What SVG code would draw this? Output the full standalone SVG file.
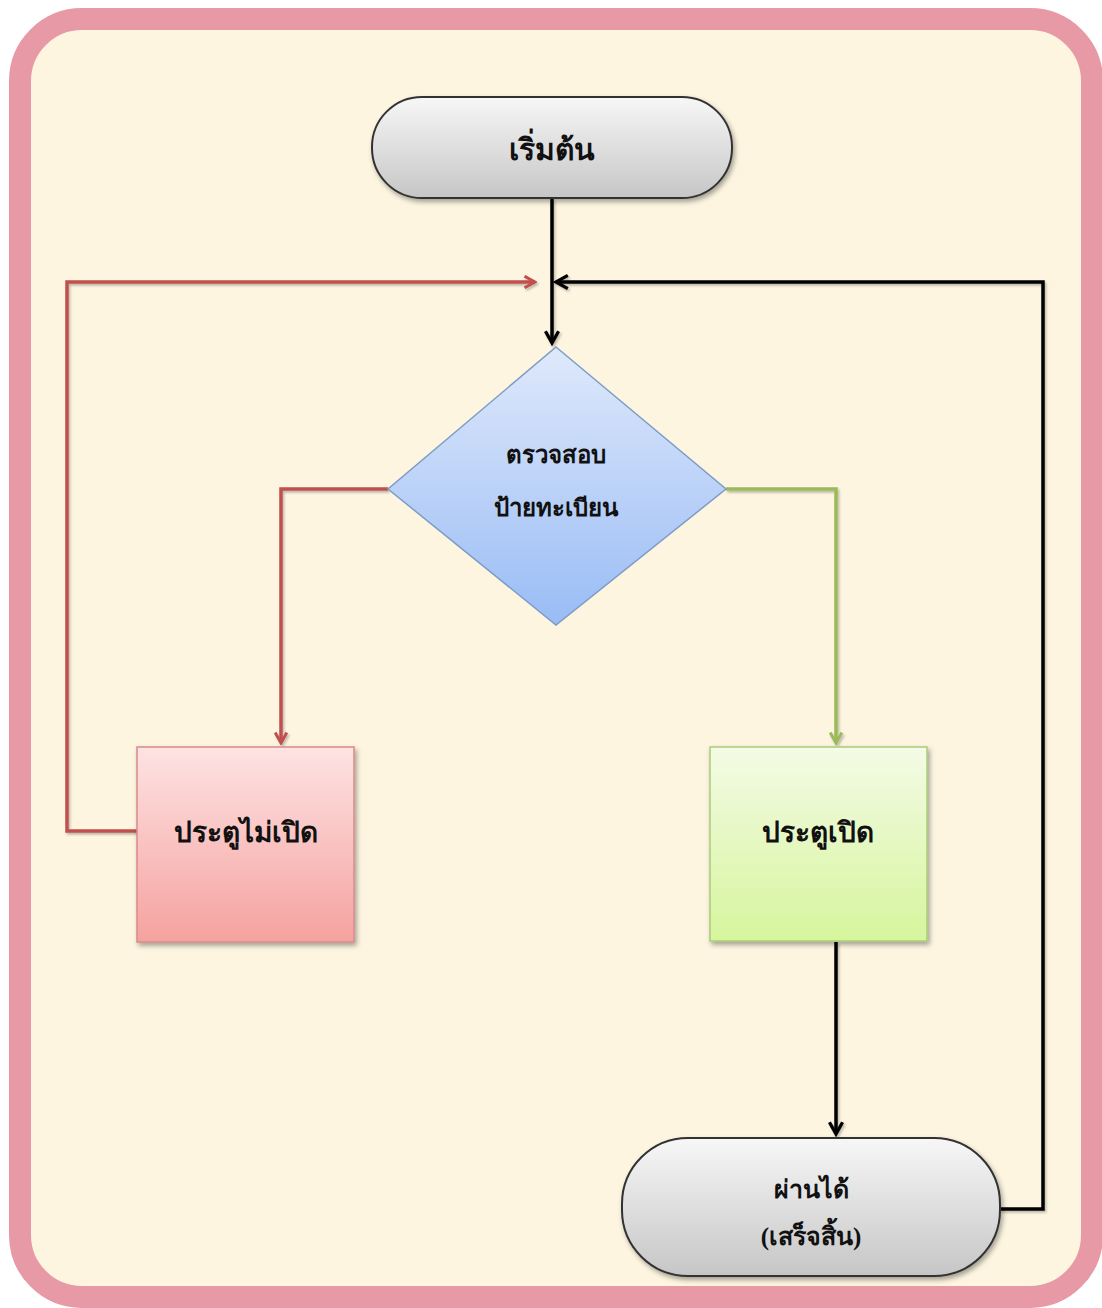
<svg xmlns="http://www.w3.org/2000/svg" width="1102" height="1308" viewBox="0 0 1102 1308">
<defs>
<style>
.t{font-family:"Liberation Serif","Noto Sans","DejaVu Sans",serif;font-weight:bold;fill:#111;text-anchor:middle}
.blk{fill:none;stroke:#000;stroke-width:3.5;filter:url(#ls)}
.red{fill:none;stroke:#c0504d;stroke-width:3.5;filter:url(#ls)}
.grn{fill:none;stroke:#9bbb59;stroke-width:3.5;filter:url(#ls)}
</style>
<linearGradient id="gGray" x1="0" y1="0" x2="0" y2="1"><stop offset="0" stop-color="#f7f7f7"/><stop offset="1" stop-color="#c6c6c6"/></linearGradient>
<linearGradient id="gBlue" x1="0" y1="0" x2="0" y2="1"><stop offset="0" stop-color="#dfe9fb"/><stop offset="1" stop-color="#99bcf5"/></linearGradient>
<linearGradient id="gRed" x1="0" y1="0" x2="0" y2="1"><stop offset="0" stop-color="#fde3e3"/><stop offset="1" stop-color="#f5a29f"/></linearGradient>
<linearGradient id="gGrn" x1="0" y1="0" x2="0" y2="1"><stop offset="0" stop-color="#f4fbe6"/><stop offset="1" stop-color="#d6f59c"/></linearGradient>
<filter id="sh" x="-10%" y="-10%" width="125%" height="130%"><feDropShadow dx="2" dy="3" stdDeviation="2.5" flood-color="#000" flood-opacity="0.35"/></filter>
<filter id="ls" filterUnits="userSpaceOnUse" x="0" y="0" width="1102" height="1308"><feDropShadow dx="1.5" dy="2" stdDeviation="1" flood-color="#000" flood-opacity="0.25"/></filter>
<marker id="aB" viewBox="0 0 12 12" refX="10" refY="6" markerWidth="4.5" markerHeight="4.5" orient="auto" markerUnits="strokeWidth"><path d="M1,1 L10,6 L1,11" fill="none" stroke="#000" stroke-width="2.5"/></marker>
<marker id="aR" viewBox="0 0 12 12" refX="10" refY="6" markerWidth="4" markerHeight="4" orient="auto" markerUnits="strokeWidth"><path d="M1,1 L10,6 L1,11" fill="none" stroke="#c0504d" stroke-width="2.5"/></marker>
<marker id="aG" viewBox="0 0 12 12" refX="10" refY="6" markerWidth="4" markerHeight="4" orient="auto" markerUnits="strokeWidth"><path d="M1,1 L10,6 L1,11" fill="none" stroke="#9bbb59" stroke-width="2.5"/></marker>
</defs>
<rect x="0" y="0" width="1102" height="1308" fill="#ffffff"/>
<rect id="frame" x="20" y="19" width="1072" height="1278" rx="62" fill="#fdf5e0" stroke="#e79aa5" stroke-width="22"/>
<g id="connectors">
<path class="blk" d="M552,199 V343" marker-end="url(#aB)"/>
<path class="red" d="M388,489 H281 V743" marker-end="url(#aR)"/>
<path class="red" d="M137,831 H67 V282 H535" marker-end="url(#aR)"/>
<path class="grn" d="M726,489 H836 V743" marker-end="url(#aG)"/>
<path class="blk" d="M836,942 V1134" marker-end="url(#aB)"/>
<path class="blk" d="M1000,1209 H1043 V282 H556" marker-end="url(#aB)"/>
</g>
<g id="start">
<rect x="372" y="97" width="360" height="101" rx="50" fill="url(#gGray)" stroke="#333" stroke-width="2" filter="url(#sh)"/>
<text class="t" x="552" y="160" font-size="30">เริ่มต้น</text>
</g>
<g id="check">
<polygon points="556,347 726,489 556,625 388,489" fill="url(#gBlue)" stroke="#7d9cc6" stroke-width="1.5"/>
<text class="t" x="556" y="463" font-size="24">ตรวจสอบ</text>
<text class="t" x="556" y="516" font-size="24">ป้ายทะเบียน</text>
</g>
<g id="closed">
<rect x="137" y="747" width="217" height="195" fill="url(#gRed)" stroke="#d88a88" stroke-width="1.5" filter="url(#sh)"/>
<text class="t" x="246" y="842" font-size="28">ประตูไม่เปิด</text>
</g>
<g id="open">
<rect x="710" y="747" width="217" height="194" fill="url(#gGrn)" stroke="#a9cc78" stroke-width="1.5" filter="url(#sh)"/>
<text class="t" x="818" y="842" font-size="28">ประตูเปิด</text>
</g>
<g id="end">
<rect x="622" y="1138" width="378" height="138" rx="66" fill="url(#gGray)" stroke="#333" stroke-width="2" filter="url(#sh)"/>
<text class="t" x="811" y="1198" font-size="25">ผ่านได้</text>
<text class="t" x="811" y="1245" font-size="25">(เสร็จสิ้น)</text>
</g>
</svg>
